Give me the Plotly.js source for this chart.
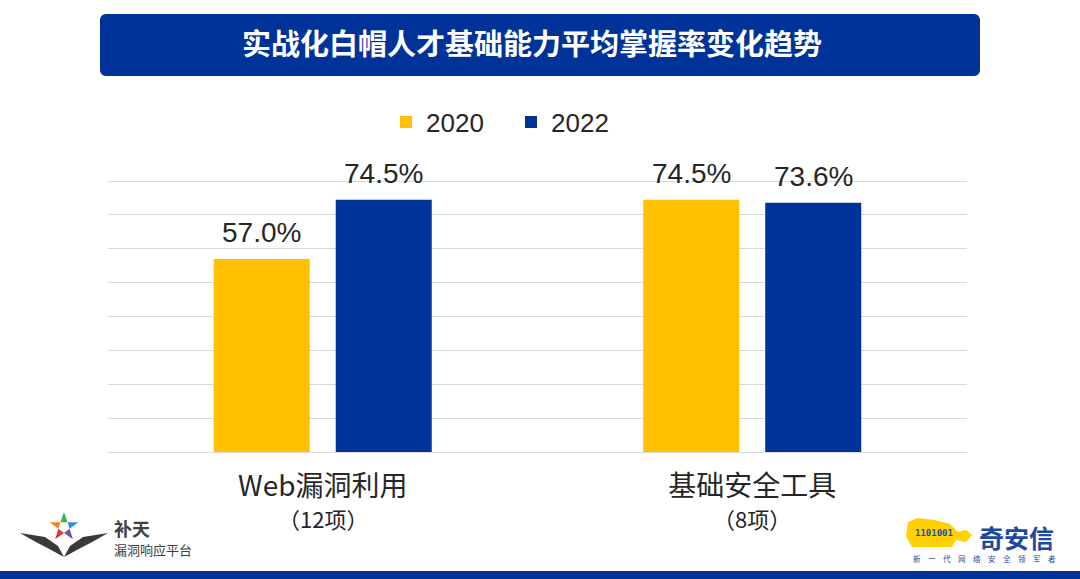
<!DOCTYPE html>
<html><head><meta charset="utf-8">
<script src="https://cdn.plot.ly/plotly-3.0.1.min.js"></script>
<style>html,body{margin:0;padding:0;background:#fff}</style>
</head><body>
<div id="chart" style="width:1080px;height:579px"></div>
<script>
const categories = ["Web漏洞利用", "基础安全工具"];
const itemCounts = ["（12项）", "（8项）"];
const seriesNames = ["2020", "2022"];
const values2020 = [57.0, 74.5];
const values2022 = [74.5, 73.6];
const titleText = "实战化白帽人才基础能力平均掌握率变化趋势";

const L = 108, R = 967, T = 178, B = 452;
const px = x => (x - L) / (R - L);
const py = y => (B - y) / (B - T);
function pathP(pts) {
  return 'M ' + pts.map(p => px(p[0]).toFixed(5) + ',' + py(p[1]).toFixed(5)).join(' L ') + ' Z';
}
function roundRect(x0, y0, x1, y1, r) {
  const pts = [];
  const arc = (cx, cy, a0) => { for (let k = 0; k <= 6; k++) { const a = (a0 + 15 * k) * Math.PI / 180; pts.push([cx + r * Math.cos(a), cy + r * Math.sin(a)]); } };
  arc(x1 - r, y0 + r, -90); arc(x1 - r, y1 - r, 0); arc(x0 + r, y1 - r, 90); arc(x0 + r, y0 + r, 180);
  return pathP(pts);
}

const labelFont = {family: 'Liberation Sans, Arial, sans-serif', size: 28, color: '#262626'};

const traces = [
  {type: 'bar', name: seriesNames[0], x: categories, y: values2020, marker: {color: '#FFC000'}, hoverinfo: 'none'},
  {type: 'bar', name: seriesNames[1], x: categories, y: values2022, marker: {color: '#003399'}, hoverinfo: 'none'}
];

const shapes = [];
shapes.push({type: 'path', xref: 'paper', yref: 'paper', path: roundRect(100, 14, 980, 76, 6), fillcolor: '#003399', line: {width: 0}, layer: 'below'});
shapes.push({type: 'rect', xref: 'paper', yref: 'paper', x0: px(0), x1: px(1080), y0: py(579), y1: py(571), fillcolor: '#003399', line: {width: 0}});
// star logo
const starColors = ['#3bb54a', '#2e8fd8', '#7a4fb0', '#e03535', '#f58220'];
const cx = 64, cy = 527;
for (let i = 0; i < 5; i++) {
  const a = (-90 + 72 * i) * Math.PI / 180, d = 36 * Math.PI / 180;
  shapes.push({type: 'path', xref: 'paper', yref: 'paper', fillcolor: starColors[i], line: {width: 0},
    path: pathP([[cx + 15 * Math.cos(a), cy + 15 * Math.sin(a)], [cx + 6 * Math.cos(a + d), cy + 6 * Math.sin(a + d)], [cx + 6 * Math.cos(a - d), cy + 6 * Math.sin(a - d)]])});
}
shapes.push({type: 'path', xref: 'paper', yref: 'paper', fillcolor: '#3a3a3a', line: {width: 0},
  path: pathP([[20, 533], [45, 537], [58, 546], [64, 557], [53, 551], [34, 541]])});
shapes.push({type: 'path', xref: 'paper', yref: 'paper', fillcolor: '#3a3a3a', line: {width: 0},
  path: pathP([[108, 533], [83, 537], [70, 546], [64, 557], [75, 551], [94, 541]])});
// tiger logo
shapes.push({type: 'path', xref: 'paper', yref: 'paper', fillcolor: '#FFD200', line: {width: 0},
  path: pathP([[908, 522], [918, 518], [935, 520], [950, 524], [958, 532], [966, 530], [972, 535], [966, 542], [956, 540], [952, 547], [912, 547], [906, 536]])});

const annotations = [];
// value labels above the bars
[values2020, values2022].forEach((vals, s) => {
  categories.forEach((c, i) => annotations.push({xref: 'x', yref: 'y', x: c, y: vals[i], xshift: s === 0 ? -61 : 61, yshift: 9,
    yanchor: 'bottom', showarrow: false, text: vals[i].toFixed(1) + '%', font: labelFont}));
});
categories.forEach((c, i) => annotations.push({xref: 'x', yref: 'paper', x: c, y: py(518), yanchor: 'middle', showarrow: false,
  text: itemCounts[i], font: {family: 'Noto Sans CJK SC, sans-serif', size: 22, color: '#262626'}}));
annotations.push({xref: 'paper', yref: 'paper', x: px(112), y: py(528), xanchor: 'left', yanchor: 'middle', showarrow: false,
  text: '<b>补天</b>', font: {family: 'Noto Sans CJK SC', size: 18, color: '#404040'}});
annotations.push({xref: 'paper', yref: 'paper', x: px(112), y: py(549), xanchor: 'left', yanchor: 'middle', showarrow: false,
  text: '漏洞响应平台', font: {family: 'Noto Sans CJK SC', size: 13, color: '#404040'}});
annotations.push({xref: 'paper', yref: 'paper', x: px(934), y: py(533), xanchor: 'center', yanchor: 'middle', showarrow: false,
  text: '<b>1101001</b>', font: {family: 'DejaVu Sans Mono', size: 9, color: '#1d4aa0'}});
annotations.push({xref: 'paper', yref: 'paper', x: px(1016), y: py(537), xanchor: 'center', yanchor: 'middle', showarrow: false,
  text: '<b>奇安信</b>', font: {family: 'Noto Sans CJK SC', size: 25, color: '#1d4aa0'}});
annotations.push({xref: 'paper', yref: 'paper', x: px(984), y: py(558), xanchor: 'center', yanchor: 'middle', showarrow: false,
  text: '新　一　代　网　络　安　全　领　军　者', font: {family: 'Noto Sans CJK SC', size: 7.5, color: '#1d4aa0'}});

const layout = {
  width: 1080, height: 579,
  margin: {l: L, r: 1080 - R, t: T, b: 579 - B, pad: 0},
  paper_bgcolor: '#ffffff', plot_bgcolor: '#ffffff',
  title: {text: titleText, xref: 'container', yref: 'container', x: 532 / 1080, xanchor: 'center', y: 1 - 45 / 579, yanchor: 'middle',
    font: {family: 'Noto Sans CJK SC, sans-serif', size: 29, color: '#ffffff', weight: 'bold'}},
  barmode: 'group', bargap: 0.432, bargroupgap: 0.213,
  xaxis: {type: 'category', showgrid: false, showline: false, ticks: '', ticklabelstandoff: 15,
    tickfont: {family: 'Liberation Sans Narrow, Noto Sans CJK SC, sans-serif', size: 28, color: '#262626'}},
  yaxis: {range: [0, 80.9], dtick: 10, showticklabels: false, showgrid: true, gridcolor: '#d9d9d9', gridwidth: 1,
    zeroline: true, zerolinecolor: '#d9d9d9', zerolinewidth: 1, showline: false},
  showlegend: true,
  legend: {orientation: 'h', x: px(386), xanchor: 'left', y: py(122), yanchor: 'middle', entrywidth: 80, entrywidthmode: 'pixels',
    font: {family: 'Liberation Sans, Arial, sans-serif', size: 26, color: '#262626'}, bgcolor: 'rgba(0,0,0,0)'},
  shapes: shapes, annotations: annotations
};
Plotly.newPlot('chart', traces, layout, {staticPlot: true, displayModeBar: false});
</script>
</body></html>
